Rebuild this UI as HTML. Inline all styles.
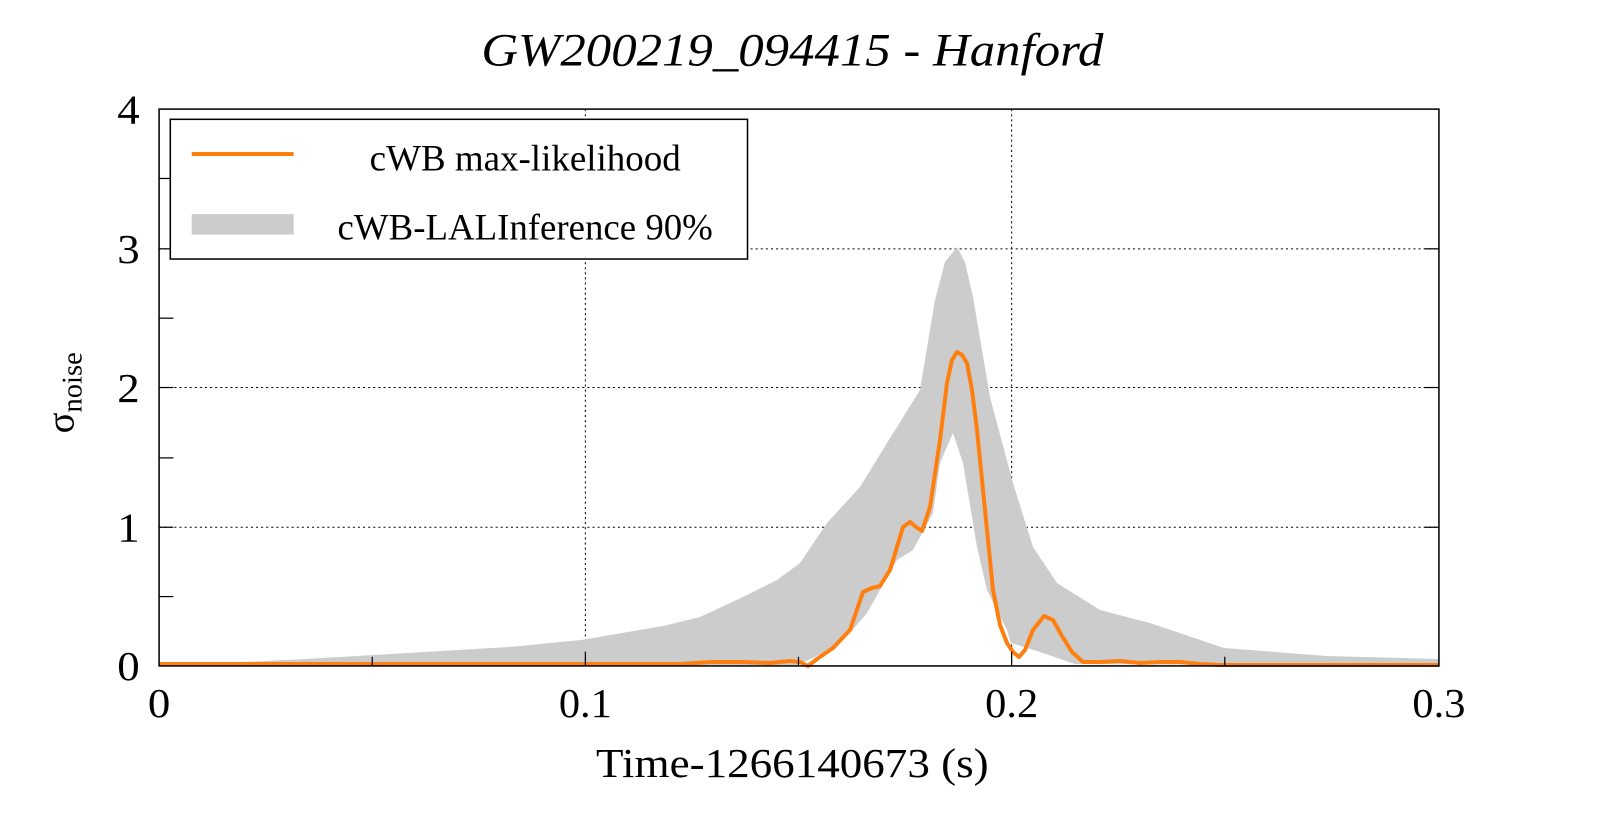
<!DOCTYPE html>
<html><head><meta charset="utf-8"><style>html,body{margin:0;padding:0;background:#fff;overflow:hidden;width:1599px;height:813px}svg{display:block}</style></head>
<body>
<svg width="1599" height="813" viewBox="0 0 1599 813" xmlns="http://www.w3.org/2000/svg" font-family="Liberation Serif, serif">
<rect width="1599" height="813" fill="#fff"/>
<g transform="scale(1.0198)">
<text x="777" y="64" font-size="46" font-style="italic" text-anchor="middle" textLength="610" lengthAdjust="spacingAndGlyphs">GW200219_094415 - Hanford</text>
<g stroke="#000" stroke-width="1" stroke-dasharray="2,3">
<line x1="574" y1="107" x2="574" y2="653"/>
<line x1="992" y1="107" x2="992" y2="653"/>
<line x1="156" y1="244" x2="1411" y2="244"/>
<line x1="156" y1="380" x2="1411" y2="380"/>
<line x1="156" y1="517" x2="1411" y2="517"/>
</g>
</g>
<path fill="#cccccc" d="M159,666 L204,664 L306,659 L408,653 L510,647 L581,640 L663,626 L700,617 L743,597 L777,580 L800,563 L827,523 L860,487 L887,443 L920,390 L935,300 L945,262 L957,247 L965,262 L973,297 L990,397 L1013,483 L1033,547 L1057,583 L1100,610 L1150,623 L1224,648 L1327,656 L1439,659 L1439,666 L1075,664 L1069,662 L1040,652 L1011,643 L1007,630 L987,590 L977,547 L963,463 L953,433 L940,463 L933,513 L913,550 L897,560 L880,590 L867,613 L850,633 L833,647 L815,657 L797,665 Z"/>
<path fill="none" stroke="#ff7f0e" stroke-width="4" stroke-linejoin="round" d="M159,664 L680,664 L711,662 L744,662 L770,663 L790,661 L800,662 L808,666 L817,659 L833,648 L850,630 L863,592 L872,588 L880,586 L890,570 L903,527 L910,522 L916,527 L922,531 L930,507 L940,440 L947,383 L952,360 L957,352 L962,355 L967,363 L972,390 L977,430 L982,480 L987,530 L993,590 L1000,625 L1007,643 L1013,652 L1019,657 L1025,650 L1033,630 L1044,616 L1053,620 L1062,636 L1072,652 L1083,662 L1100,662 L1120,661 L1140,663 L1160,662 L1180,662 L1200,664 L1220,665 L1439,665"/>
<g transform="scale(1.0198)">
<rect x="156" y="107" width="1255" height="546" fill="none" stroke="#000" stroke-width="1.5"/>
<g stroke="#000" stroke-width="1.2">
<line x1="156" y1="175" x2="170" y2="175"/><line x1="156" y1="244" x2="170" y2="244"/>
<line x1="156" y1="312" x2="170" y2="312"/><line x1="156" y1="380" x2="170" y2="380"/>
<line x1="156" y1="449" x2="170" y2="449"/><line x1="156" y1="517" x2="170" y2="517"/>
<line x1="156" y1="585" x2="170" y2="585"/>
<line x1="1411" y1="244" x2="1397" y2="244"/><line x1="1411" y1="380" x2="1397" y2="380"/><line x1="1411" y1="517" x2="1397" y2="517"/>
<line x1="574" y1="653" x2="574" y2="639"/><line x1="992" y1="653" x2="992" y2="639"/>
<line x1="365" y1="653" x2="365" y2="644"/><line x1="783" y1="653" x2="783" y2="644"/><line x1="1201" y1="653" x2="1201" y2="644"/>
</g>
<rect x="167" y="117" width="566" height="137" fill="#fff" stroke="#000" stroke-width="1.5"/>
<line x1="188" y1="151" x2="288" y2="151" stroke="#ff7f0e" stroke-width="4"/>
<rect x="188" y="210" width="100" height="20" fill="#cccccc"/>
<text x="515" y="167" font-size="36" text-anchor="middle" textLength="305" lengthAdjust="spacingAndGlyphs">cWB max-likelihood</text>
<text x="515" y="235" font-size="36" text-anchor="middle" textLength="368" lengthAdjust="spacingAndGlyphs">cWB-LALInference 90%</text>
<g font-size="40" text-anchor="end">
<text x="137" y="121" textLength="22" lengthAdjust="spacingAndGlyphs">4</text><text x="137" y="258" textLength="22" lengthAdjust="spacingAndGlyphs">3</text><text x="137" y="394" textLength="22" lengthAdjust="spacingAndGlyphs">2</text><text x="137" y="531" textLength="22" lengthAdjust="spacingAndGlyphs">1</text><text x="137" y="667" textLength="22" lengthAdjust="spacingAndGlyphs">0</text>
</g>
<g font-size="40" text-anchor="middle">
<text x="156" y="703" textLength="22" lengthAdjust="spacingAndGlyphs">0</text><text x="574" y="703" textLength="52" lengthAdjust="spacingAndGlyphs">0.1</text><text x="992" y="703" textLength="52" lengthAdjust="spacingAndGlyphs">0.2</text><text x="1411" y="703" textLength="52" lengthAdjust="spacingAndGlyphs">0.3</text>
</g>
<text x="777" y="762" font-size="40" text-anchor="middle" textLength="385" lengthAdjust="spacingAndGlyphs">Time-1266140673 (s)</text>
<g transform="translate(72,425) rotate(-90)"><text x="0" y="0" font-size="38">σ<tspan font-size="28" dy="8">noise</tspan></text></g>
</g>
</svg>
</body></html>
